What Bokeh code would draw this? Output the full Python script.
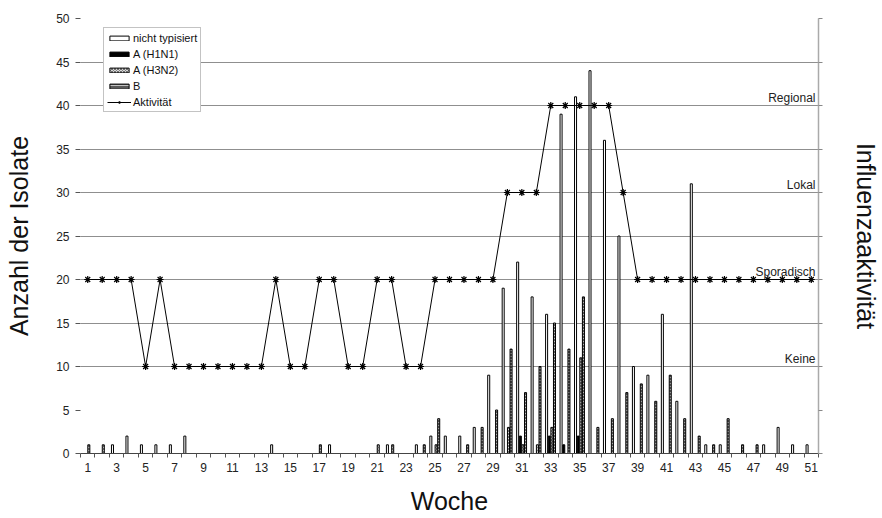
from bokeh.plotting import figure
from bokeh.models import (FixedTicker, LinearAxis, Range1d, Legend, LegendItem,
                          ColumnDataSource)
from bokeh.transform import dodge
from bokeh.embed import file_html
from bokeh.resources import INLINE
from bokeh.core.properties import value

# ---------------- data ----------------
weeks = list(range(1, 52))
nicht_typisiert = [0, 0, 1, 2, 1, 1, 1, 2, 0, 0, 0, 0, 0, 1, 0, 0, 0, 1, 0, 0,
                   0, 1, 0, 1, 2, 2, 2, 3, 9, 19, 22, 18, 16, 39, 41, 44, 36, 25, 10, 9,
                   16, 6, 31, 1, 1, 0, 0, 1, 3, 1, 1]
h1n1 = [0, 0, 0, 0, 0, 0, 0, 0, 0, 0, 0, 0, 0, 0, 0, 0, 0, 0, 0, 0,
        0, 0, 0, 0, 0, 0, 0, 0, 0, 0, 2, 0, 2, 1, 2, 0, 0, 0, 0, 0,
        0, 0, 0, 0, 0, 0, 0, 0, 0, 0, 0]
h3n2 = [1, 1, 0, 0, 0, 0, 0, 0, 0, 0, 0, 0, 0, 0, 0, 0, 1, 0, 0, 0,
        1, 1, 0, 0, 1, 0, 0, 0, 0, 3, 1, 1, 3, 0, 11, 0, 0, 0, 0, 0,
        0, 0, 0, 0, 0, 0, 0, 0, 0, 0, 0]
typ_b = [0, 0, 0, 0, 0, 0, 0, 0, 0, 0, 0, 0, 0, 0, 0, 0, 0, 0, 0, 0,
         0, 0, 0, 1, 4, 0, 1, 3, 5, 12, 7, 10, 15, 12, 18, 3, 4, 7, 8, 6,
         9, 4, 2, 1, 4, 1, 1, 0, 0, 0, 0]
aktivitaet = [20, 20, 20, 20, 10, 20, 10, 10, 10, 10, 10, 10, 10, 20, 10, 10, 20, 20, 10, 10,
              20, 20, 10, 10, 20, 20, 20, 20, 20, 30, 30, 30, 40, 40, 40, 40, 40, 30, 20, 20,
              20, 20, 20, 20, 20, 20, 20, 20, 20, 20, 20]
x_tick_weeks = list(range(1, 52, 2))
y_ticks = list(range(0, 51, 5))
grid_ticks = list(range(10, 51, 5))
level_values = [10, 20, 30, 40]
level_labels = ["Keine", "Sporadisch", "Lokal", "Regional"]
series_names = ["nicht typisiert", "A (H1N1)", "A (H3N2)", "B"]

FONT = "Liberation Sans"

p = figure(width=882, height=518, x_range=Range1d(0.5, 51.5), y_range=Range1d(0, 50),
           output_backend="svg", toolbar_location=None,
           min_border_left=80, min_border_right=64, min_border_top=18, min_border_bottom=65)
p.outline_line_color = None
p.background_fill_color = "white"

# grid
p.xgrid.visible = False
p.ygrid.ticker = FixedTicker(ticks=grid_ticks)
p.ygrid.grid_line_color = "#8f8f8f"
p.ygrid.grid_line_width = 1


def nz_source(vals):
    w = [wk for wk, v in zip(weeks, vals) if v > 0]
    t = [v for v in vals if v > 0]
    return ColumnDataSource(dict(week=w, top=t))


BW = 0.14
r_nt = p.vbar(x=dodge("week", -0.29), top="top", width=BW, source=nz_source(nicht_typisiert),
              fill_color="white", line_color="black", line_width=1)
r_h1 = p.vbar(x=dodge("week", -0.105), top="top", width=BW, source=nz_source(h1n1),
              fill_color="black", line_color="black", line_width=1)
r_h3 = p.vbar(x=dodge("week", 0.075), top="top", width=BW, source=nz_source(h3n2),
              fill_color="#d8d8d8", line_color="black", line_width=1,
              hatch_pattern="diagonal_cross", hatch_color="#444444", hatch_scale=3, hatch_weight=0.7)
r_b = p.vbar(x=dodge("week", 0.255), top="top", width=BW, source=nz_source(typ_b),
             fill_color="#5a5a5a", line_color="black", line_width=1,
             hatch_pattern="horizontal_line", hatch_color="#dddddd", hatch_scale=3, hatch_weight=0.8)

# activity line
r_line = p.line(weeks, aktivitaet, line_color="black", line_width=1)
r_mark = p.scatter(weeks, aktivitaet, marker="asterisk", size=7, line_color="black", line_width=1.2)

# level labels
p.text(x=[51.5] * 4, y=level_values, text=level_labels, text_align="right",
       text_baseline="bottom", x_offset=-3, y_offset=-1,
       text_font=value(FONT), text_font_size="12px", text_color="#222222")

# left axis
ya = p.yaxis[0]
ya.ticker = FixedTicker(ticks=y_ticks)
ya.axis_line_color = None
ya.major_tick_out = 5
ya.major_tick_in = 0
ya.major_tick_line_color = "#555555"
ya.minor_tick_line_color = None
ya.major_label_standoff = 6
ya.major_label_text_font = FONT
ya.major_label_text_font_size = "12px"
ya.major_label_text_color = "#222222"
ya.axis_label = "Anzahl der Isolate"
ya.axis_label_text_font = FONT
ya.axis_label_text_font_size = "25px"
ya.axis_label_text_font_style = "normal"
ya.axis_label_text_color = "#111111"
ya.axis_label_standoff = 20

# bottom axis
xa = p.xaxis[0]
xa.ticker = FixedTicker(ticks=x_tick_weeks, minor_ticks=[k + 0.5 for k in range(0, 52)])
xa.major_tick_line_color = None
xa.major_tick_out = 4
xa.major_tick_in = 0
xa.minor_tick_out = 4
xa.minor_tick_in = 0
xa.minor_tick_line_color = "#555555"
xa.axis_line_color = "#444444"
xa.major_label_text_font = FONT
xa.major_label_text_font_size = "12px"
xa.major_label_text_color = "#222222"
xa.axis_label = "Woche"
xa.axis_label_text_font = FONT
xa.axis_label_text_font_size = "25px"
xa.axis_label_text_font_style = "normal"
xa.axis_label_text_color = "#111111"
xa.axis_label_standoff = 12

# right axis
ra = LinearAxis(ticker=FixedTicker(ticks=y_ticks),
                major_label_overrides={t: "" for t in y_ticks})
ra.axis_line_color = "#aaaaaa"
ra.axis_line_width = 1.5
ra.major_tick_out = 4
ra.major_tick_in = 0
ra.major_tick_line_color = "#888888"
ra.minor_tick_line_color = None
ra.major_label_text_font_size = "1px"
ra.major_label_standoff = 0
ra.axis_label = "Influenzaaktivität"
ra.axis_label_text_font = FONT
ra.axis_label_text_font_size = "25px"
ra.axis_label_text_font_style = "normal"
ra.axis_label_text_color = "#111111"
ra.axis_label_standoff = 29
p.add_layout(ra, "right")

# legend
legend = Legend(items=[
    LegendItem(label=series_names[0], renderers=[r_nt]),
    LegendItem(label=series_names[1], renderers=[r_h1]),
    LegendItem(label=series_names[2], renderers=[r_h3]),
    LegendItem(label=series_names[3], renderers=[r_b]),
    LegendItem(label="Aktivität", renderers=[r_line, r_mark]),
], location=(23, 341))
legend.label_text_font = FONT
legend.label_text_font_size = "11px"
legend.label_text_color = "#111111"
legend.label_height = 13
legend.glyph_height = 6
legend.glyph_width = 24
legend.label_standoff = 2
legend.spacing = 3
legend.padding = 3
legend.margin = 0
legend.border_line_color = "#888888"
legend.border_line_width = 1
legend.background_fill_color = "white"
legend.background_fill_alpha = 1
p.add_layout(legend, "center")

open("out.html", "w").write(file_html(p, INLINE))
